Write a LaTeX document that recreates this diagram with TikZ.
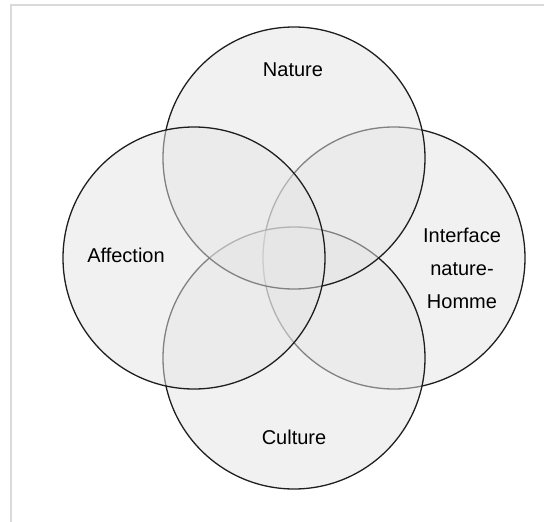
\documentclass[tikz,border=0pt]{standalone}
\usepackage{fontspec}
\setmainfont{Liberation Sans}
\usepackage{xcolor}
\usepackage{tikz}
\definecolor{ringline}{RGB}{30, 30, 30}
\definecolor{ringfill}{RGB}{228, 228, 228}
\definecolor{framegray}{RGB}{218, 218, 218}

\begin{document}
\begin{tikzpicture}[x=1pt, y=-1pt, every node/.style={font=\fontsize{20}{33}\selectfont},
    ring/.style={circle, draw=ringline, fill=ringfill, fill opacity=0.5, draw opacity=1, line width=1.3pt, minimum size=262pt, inner sep=0pt}]
    \useasboundingbox (0,0) rectangle (544,522);
    % frame
    \draw[framegray, line width=1.5pt] (11,522) -- (11,5) -- (544,5);

    % circles
    \node[ring] (inter) at (394,258) {};
    \node[ring] (cult) at (294,358) {};
    \node[ring] (nat) at (294,158) {};
    \node[ring] (aff) at (194,258) {};

    % labels
    \node (natText) at (293,70) {Nature};
    \node (affText) at (126,255) {Affection};
    \node[align=center] (interText) at (462,268) {Interface\\nature-\\Homme};
    \node (cultText) at (294,437) {Culture};
\end{tikzpicture}
\end{document}
